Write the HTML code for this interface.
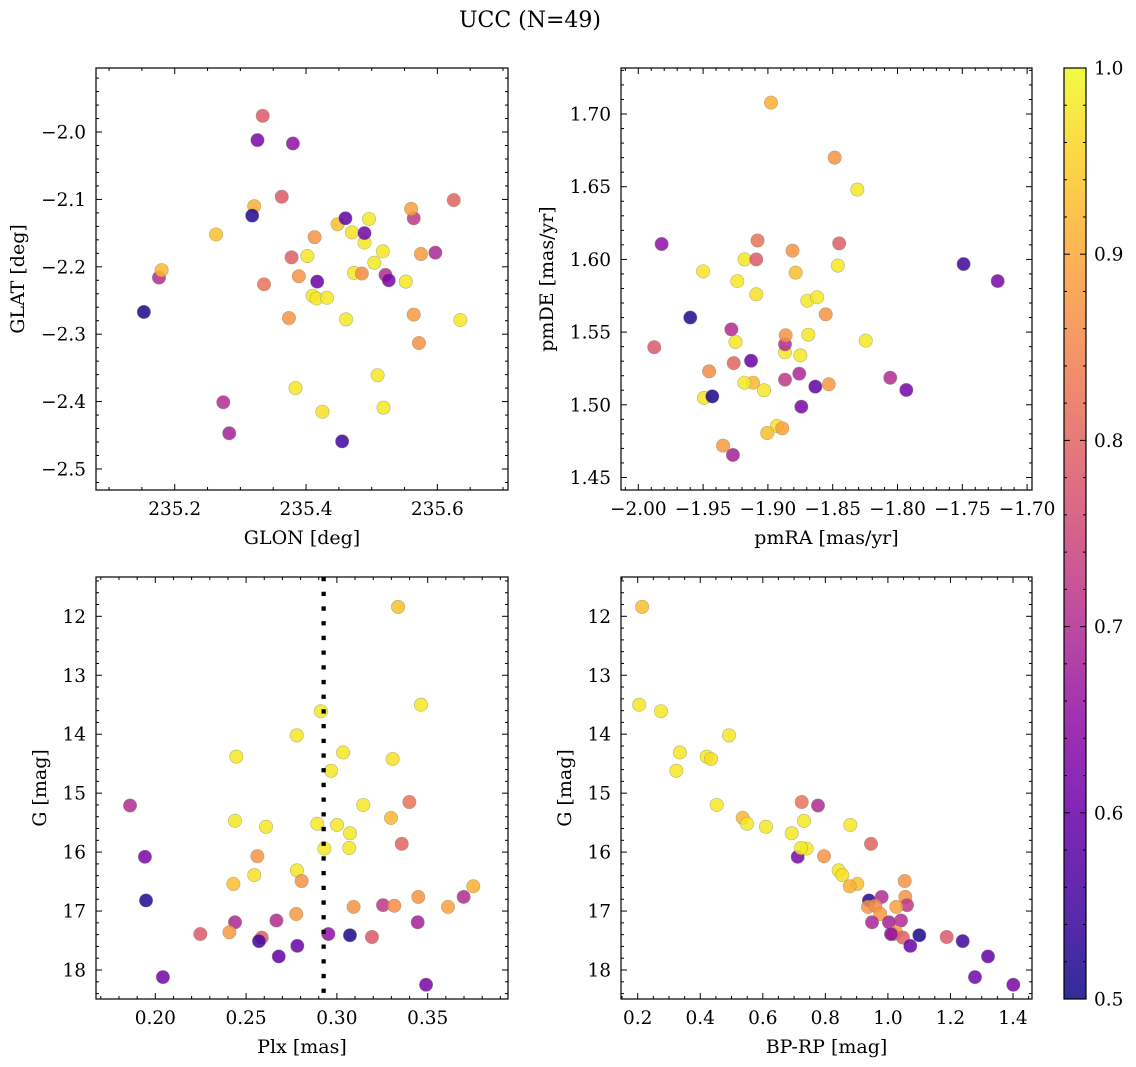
<!DOCTYPE html>
<html><head><meta charset="utf-8"><title>UCC (N=49)</title>
<style>
html,body{margin:0;padding:0;background:#fff;}
svg{display:block;font-family:"DejaVu Serif","Liberation Serif",serif;}
</style></head>
<body>
<svg id="fig" width="1136" height="1067" viewBox="0 0 1136 1067" xmlns="http://www.w3.org/2000/svg">
<defs>
<linearGradient id="cbgrad" x1="0" y1="1" x2="0" y2="0">
<stop offset="0" stop-color="#0d0887"/><stop offset="0.1" stop-color="#41049d"/><stop offset="0.2" stop-color="#6a00a8"/><stop offset="0.3" stop-color="#8f0da4"/><stop offset="0.4" stop-color="#b12a90"/><stop offset="0.5" stop-color="#cc4778"/><stop offset="0.6" stop-color="#e16462"/><stop offset="0.7" stop-color="#f2844b"/><stop offset="0.8" stop-color="#fca636"/><stop offset="0.9" stop-color="#fcce25"/><stop offset="1" stop-color="#f0f921"/>
</linearGradient>
</defs>
<text x="530" y="27" text-anchor="middle" font-size="22">UCC (N=49)</text>
</svg>
<script>
const prob = [0.93,0.98,0.98,0.98,0.98,0.98,0.97,0.98,0.70,0.82,0.98,0.92,0.98,0.98,0.98,0.98,0.98,0.80,0.62,0.87,0.98,0.98,0.98,0.97,0.87,0.93,0.91,0.52,0.87,0.70,0.87,0.72,0.86,0.89,0.88,0.69,0.70,0.68,0.78,0.88,0.79,0.55,0.65,0.51,0.78,0.60,0.59,0.61,0.62];
const glon = [235.263,235.402,235.410,235.416,235.432,235.496,235.470,235.489,235.176,235.336,235.517,235.180,235.504,235.473,235.552,235.635,235.461,235.625,235.326,235.572,235.509,235.518,235.384,235.425,235.413,235.448,235.321,235.318,235.389,235.521,235.374,235.564,235.485,235.560,235.575,235.597,235.274,235.283,235.363,235.564,235.378,235.455,235.380,235.153,235.334,235.417,235.460,235.489,235.526];
const glat = [-2.152,-2.184,-2.243,-2.247,-2.246,-2.129,-2.149,-2.164,-2.216,-2.226,-2.177,-2.205,-2.194,-2.209,-2.222,-2.279,-2.278,-2.101,-2.012,-2.313,-2.361,-2.409,-2.380,-2.415,-2.156,-2.137,-2.110,-2.124,-2.214,-2.212,-2.276,-2.128,-2.210,-2.114,-2.181,-2.179,-2.401,-2.447,-2.096,-2.271,-2.186,-2.459,-2.017,-2.267,-1.976,-2.222,-2.128,-2.150,-2.220];
const pmra = [-1.8786,-1.831,-1.918,-1.846,-1.950,-1.9236,-1.909,-1.8696,-1.9282,-1.908,-1.862,-1.9115,-1.925,-1.8868,-1.8688,-1.875,-1.8245,-1.9264,-1.7227,-1.8485,-1.9182,-1.903,-1.9493,-1.893,-1.881,-1.9005,-1.8976,-1.9599,-1.8554,-1.8868,-1.8863,-1.8868,-1.9454,-1.8889,-1.9346,-1.8758,-1.8056,-1.927,-1.909,-1.853,-1.845,-1.749,-1.982,-1.9429,-1.9877,-1.913,-1.8634,-1.7932,-1.8742];
const pmde = [1.5909,1.648,1.600,1.5957,1.5918,1.5851,1.576,1.5716,1.5519,1.613,1.574,1.5152,1.5432,1.5361,1.5482,1.534,1.5441,1.5287,1.5851,1.670,1.5152,1.510,1.5047,1.4854,1.606,1.4806,1.7078,1.560,1.5622,1.5416,1.5478,1.5173,1.523,1.4838,1.4719,1.5214,1.5186,1.4655,1.600,1.5141,1.611,1.5968,1.6106,1.5058,1.5396,1.5303,1.5125,1.5102,1.4987];
const plx = [0.3337,0.3463,0.2912,0.2779,0.2446,0.3034,0.3307,0.2968,0.1861,0.3399,0.3145,0.3298,0.2439,0.2610,0.2892,0.3001,0.3072,0.3357,0.1943,0.2562,0.2931,0.3068,0.2780,0.2545,0.2806,0.2430,0.3751,0.1949,0.3448,0.3698,0.3092,0.3254,0.3316,0.3612,0.2776,0.2439,0.2667,0.3445,0.2248,0.2408,0.2586,0.2571,0.2953,0.3072,0.3193,0.2782,0.2680,0.2042,0.3491];
const gmag = [11.84,13.50,13.61,14.02,14.38,14.31,14.42,14.62,15.21,15.15,15.20,15.42,15.47,15.57,15.52,15.54,15.68,15.86,16.08,16.07,15.94,15.93,16.31,16.39,16.49,16.54,16.58,16.82,16.76,16.76,16.93,16.90,16.91,16.93,17.05,17.19,17.16,17.19,17.39,17.36,17.45,17.51,17.39,17.41,17.44,17.59,17.77,18.12,18.25];
const bprp = [0.214,0.205,0.2745,0.492,0.4206,0.335,0.4344,0.3235,0.7765,0.7244,0.4526,0.5357,0.7317,0.6102,0.5495,0.8798,0.6924,0.946,0.7116,0.7957,0.7404,0.7222,0.8427,0.8542,1.0537,0.9022,0.8779,0.9396,1.0557,0.9802,0.9364,1.0611,0.9597,1.0269,0.9757,0.9492,1.0419,1.0035,1.017,1.0259,1.048,1.2392,1.01,1.1004,1.188,1.0716,1.3201,1.2785,1.401];
const plxCut = 0.2927;
const cbTicks = [0.5,0.6,0.7,0.8,0.9,1.0];

const NS = "http://www.w3.org/2000/svg";
const svg = document.getElementById('fig');
const FS = 18.5;
const FL = 19;
function mk(tag, attrs, parent){ const e=document.createElementNS(NS,tag); for(const k in attrs) e.setAttribute(k,attrs[k]); (parent||svg).appendChild(e); return e; }
function lin(d0,d1,r0,r1){ return v => r0+(v-d0)/(d1-d0)*(r1-r0); }
const stops=[[13,8,135],[65,4,157],[106,0,168],[143,13,164],[177,42,144],[204,71,120],[225,100,98],[242,132,75],[252,166,54],[252,206,37],[240,249,33]];
function plasma(p){ let t=(p-0.5)/0.5; t=Math.max(0,Math.min(1,t)); const f=t*10; const i=Math.min(9,Math.floor(f)); const r=f-i; const a=stops[i],b=stops[i+1]; return 'rgb('+a.map((c,k)=>Math.round(c+(b[k]-c)*r)).join(',')+')'; }
function fmt(v,d){ const s=Math.abs(v).toFixed(d); return (v<-1e-9?'\u2212':'')+s; }

function panel(name, L,T,R,B, xd, yd, xMaj, xMin, yMaj, yMin, xDec, yDec, xlab, ylab, ylabX){
  const g=mk('g',{});
  
  
  const sx=lin(xd[0],xd[1],L,R), sy=lin(yd[0],yd[1],T,B);
  const tk=mk('g',{stroke:'#000','stroke-width':1},g);
  
  
  const lo=Math.min(xd[0],xd[1]), hi=Math.max(xd[0],xd[1]);
  for(let k=Math.ceil(lo/xMin-1e-6);k*xMin<=hi+1e-9;k++){ const v=k*xMin; const x=sx(v); const isM=Math.abs(v/xMaj-Math.round(v/xMaj))<1e-6; const len=isM?6:3;
    mk('line',{x1:x,y1:B,x2:x,y2:B-len},tk); mk('line',{x1:x,y1:T,x2:x,y2:T+len},tk);
    if(isM){ const t=mk('text',{x:x,y:B+25,'text-anchor':'middle','font-size':FS,stroke:'none'},g); t.textContent=fmt(v,xDec);
      
       } }
  const ylo=Math.min(yd[0],yd[1]), yhi=Math.max(yd[0],yd[1]);
  for(let k=Math.ceil(ylo/yMin-1e-6);k*yMin<=yhi+1e-9;k++){ const v=k*yMin; const y=sy(v); const isM=Math.abs(v/yMaj-Math.round(v/yMaj))<1e-6; const len=isM?6:3;
    mk('line',{x1:L,y1:y,x2:L+len,y2:y},tk); mk('line',{x1:R,y1:y,x2:R-len,y2:y},tk);
    if(isM){ const t=mk('text',{x:L-10,y:y+6.5,'text-anchor':'end','font-size':FS},g); t.textContent=fmt(v,yDec);
      
       } }
  const fr=mk('rect',{x:L,y:T,width:R-L,height:B-T,fill:'none',stroke:'#000','stroke-width':1.2},g);
  
  
  const xl=mk('text',{x:(L+R)/2,y:B+54,'text-anchor':'middle','font-size':FL},g); xl.textContent=xlab;
  
  
  const yl=mk('text',{x:ylabX,y:(T+B)/2,'text-anchor':'middle','font-size':FL,transform:'rotate(-90 '+ylabX+' '+(T+B)/2+')'},g); yl.textContent=ylab;
  
  
  return {g,sx,sy,L,T,R,B};
}
function scatter(P, xs, ys, name){
  const pg=mk('g',{},P.g);
  
  
  for(let i=0;i<xs.length;i++){
    const c=mk('circle',{cx:P.sx(xs[i]),cy:P.sy(ys[i]),r:6.7,fill:plasma(prob[i]),'fill-opacity':0.85,stroke:'#8a8a6a','stroke-opacity':0.6,'stroke-width':0.6},pg);
    
    
  }
}

const p1=panel('glon-glat-panel',96,68,508,490,[235.0801,235.7076],[-1.9050,-2.5312],0.2,0.05,0.1,0.02,1,1,'GLON [deg]','GLAT [deg]',24);
scatter(p1,glon,glat,'glon-glat');
const p2=panel('pm-panel',621,68,1032,490,[-2.01335,-1.69622],[1.73164,1.44140],0.05,0.01,0.05,0.01,2,2,'pmRA [mas/yr]','pmDE [mas/yr]',553);
scatter(p2,pmra,pmde,'pm');
const p3=panel('plx-g-panel',96,577,508,999,[0.16735,0.39422],[11.3333,18.4919],0.05,0.01,1,0.2,2,0,'Plx [mas]','G [mag]',46);
scatter(p3,plx,gmag,'plx-g');
const cut=mk('line',{x1:p3.sx(plxCut),y1:577,x2:p3.sx(plxCut),y2:999,stroke:'#000','stroke-width':4.3,'stroke-dasharray':'4.3 10.4'},p3.g);


const p4=panel('cmd-panel',621,577,1032,999,[0.14660,1.46075],[11.3333,18.4919],0.2,0.05,1,0.2,1,0,'BP-RP [mag]','G [mag]',571);
scatter(p4,bprp,gmag,'cmd');

// colorbar
const cb=mk('g',{});


const cbr=mk('rect',{x:1064,y:68,width:22,height:931,fill:'url(#cbgrad)','fill-opacity':0.85},cb);


const cby=lin(0.5,1.0,999,68);
for(let k=25;k<=50;k++){ const v=k/50; const y=cby(v); const isM=(k%5===0); const len=isM?6:3;
  mk('line',{x1:1064,y1:y,x2:1064+len,y2:y,stroke:'#000'},cb); mk('line',{x1:1086,y1:y,x2:1086-len,y2:y,stroke:'#000'},cb); }
for(const v of cbTicks){ const t=mk('text',{x:1094,y:cby(v)+6.5,'font-size':FS},cb); t.textContent=v.toFixed(1);
  
   }
const cbf=mk('rect',{x:1064,y:68,width:22,height:931,fill:'none',stroke:'#000','stroke-width':1.2},cb);


</script>
</body></html>
